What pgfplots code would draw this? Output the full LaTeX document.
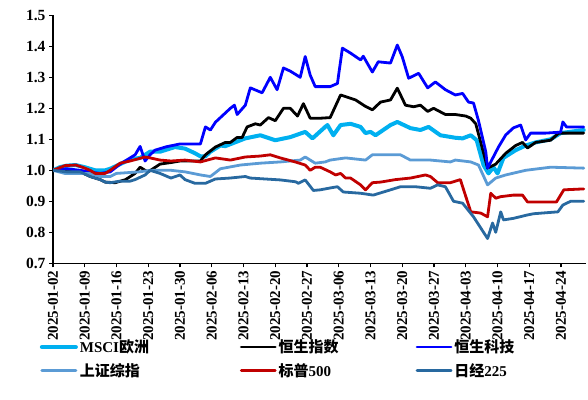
\documentclass[border=0pt]{standalone}
\usepackage{pgfplots}
\pgfplotsset{compat=1.18}
\usepackage{fontspec}
\setmainfont{Liberation Serif}
\newfontfamily\cjk{Noto Sans CJK SC}
\definecolor{cMSCI}{RGB}{0,176,240}
\definecolor{cHSI}{RGB}{0,0,0}
\definecolor{cHST}{RGB}{0,0,255}
\definecolor{cSH}{RGB}{91,155,213}
\definecolor{cSP}{RGB}{192,0,0}
\definecolor{cNK}{RGB}{40,105,160}
\begin{document}
\begin{tikzpicture}
\path[use as bounding box] (0,0) rectangle (588pt,-399pt);
\begin{axis}[
  at={(53pt,-263.3pt)}, anchor=south west,
  scale only axis, width=533pt, height=248pt,
  xmin=0, xmax=117.5, ymin=0.7, ymax=1.5,
  axis x line*=bottom, axis y line*=left,
  axis line style={black, line width=1.3pt},
  tick style={black, line width=1.3pt},
  tick align=outside, major tick length=4pt,
  xtick={0,7,14,21,28,35,42,49,56,63,70,77,84,91,98,105,112},
  xticklabels={2025-01-02,2025-01-09,2025-01-16,2025-01-23,2025-01-30,2025-02-06,2025-02-13,2025-02-20,2025-02-27,2025-03-06,2025-03-13,2025-03-20,2025-03-27,2025-04-03,2025-04-10,2025-04-17,2025-04-24},
  x tick label style={rotate=90, anchor=east, font=\fontsize{15}{15}\selectfont\bfseries},
  ytick={0.7,0.8,0.9,1.0,1.1,1.2,1.3,1.4,1.5},
  y tick label style={font=\fontsize{15.5}{15.5}\selectfont\bfseries},
  /pgf/number format/assume math mode=true,
  yticklabel={\pgfmathprintnumber[fixed,fixed zerofill,precision=1]{\tick}},
  legend columns=3,
  legend style={at={(axis description cs:-0.025,-0.30)}, anchor=north west, draw=none, fill=none,
    font=\fontsize{15}{15}\selectfont\bfseries, row sep=5pt, inner sep=0pt,
    /tikz/every even column/.append style={column sep=0pt}},
  legend cell align=left,
  legend image code/.code={\draw[#1, line cap=round] (0pt,0pt) -- (34pt,0pt);},
  every axis plot/.append style={line join=round, line cap=round},
]
% MSCI Europe
\addplot[cMSCI, line width=4pt] coordinates {
(0,1.0) (1.5,1.01) (3,1.015) (5,1.017) (7,1.01) (9.3,1.0) (11.5,1.0) (12.6,1.005) (14.8,1.02) (17,1.035) (19.2,1.04) (21.4,1.06) (23.6,1.06) (26.9,1.075) (29.1,1.07) (31.3,1.055) (32.5,1.045) (33.6,1.045) (34.7,1.06) (36.9,1.08) (38,1.078) (42.4,1.103) (45.7,1.113) (49,1.097) (52.3,1.107) (55.6,1.124) (57.2,1.103) (60,1.14) (60.5,1.146) (61.8,1.113) (63.4,1.146) (65.6,1.15) (67.8,1.14) (68.9,1.12) (70,1.124) (71.1,1.113) (74.4,1.146) (75.9,1.156) (78.8,1.136) (81,1.13) (82.8,1.14) (85.4,1.113) (88.7,1.105) (90.3,1.103) (92.1,1.113) (93.4,1.097) (94.9,1.017) (96,0.99) (97.1,1.01) (98,0.99) (99.3,1.04) (102,1.065) (104.2,1.08) (106.4,1.09) (109.7,1.10) (111.9,1.12) (117,1.13)
};
\addlegendentry{\makebox[158pt][l]{MSCI{\cjk\bfseries 欧洲}}}
% HSI
\addplot[cHSI, line width=2.8pt] coordinates {
(0,1.0) (3,1.0) (6,0.995) (8.2,0.98) (10.4,0.97) (11.5,0.962) (13.7,0.96) (16,0.97) (18.1,0.99) (19.2,1.01) (20.3,1.0) (21,0.995) (23.6,1.02) (26,1.025) (28,1.03) (32.5,1.03) (33.6,1.05) (35.8,1.075) (38,1.09) (39.1,1.09) (40.6,1.106) (41.7,1.106) (42.8,1.14) (44.6,1.15) (45.7,1.146) (47.5,1.17) (49,1.16) (50.8,1.20) (52.3,1.20) (53.9,1.175) (55.2,1.215) (56.7,1.168) (58.9,1.168) (61.1,1.17) (63.4,1.243) (66.7,1.227) (68.9,1.206) (70.4,1.195) (72.2,1.22) (74.4,1.227) (75.9,1.265) (77.7,1.21) (79.5,1.205) (81,1.21) (82.6,1.19) (83.9,1.20) (86.5,1.18) (88.7,1.18) (91,1.175) (92.1,1.168) (93.2,1.15) (95.8,1.007) (97.6,1.02) (99.8,1.055) (102,1.08) (103.5,1.09) (104.6,1.072) (106.4,1.09) (109.7,1.097) (111.5,1.12) (117,1.12)
};
\addlegendentry{\makebox[135pt][l]{\cjk\bfseries 恒生指数}}
% HSTECH
\addplot[cHST, line width=2.8pt] coordinates {
(0,1.0) (3,1.005) (6,1.0) (8,0.995) (10.4,0.99) (12.6,0.995) (14.8,1.02) (17,1.04) (18.1,1.05) (19.2,1.077) (20.3,1.03) (21.4,1.05) (22.5,1.065) (25,1.076) (28,1.085) (32.5,1.085) (33.6,1.14) (34.7,1.13) (35.8,1.155) (38,1.185) (39.1,1.20) (40,1.21) (40.6,1.18) (42.4,1.21) (43.5,1.266) (46.1,1.25) (47.9,1.30) (49.4,1.26) (50.8,1.33) (52.3,1.32) (54.5,1.30) (55.6,1.367) (56.7,1.307) (57.8,1.27) (61.1,1.27) (62.7,1.28) (63.8,1.394) (65.6,1.378) (67.8,1.356) (68.4,1.368) (70.4,1.317) (71.7,1.35) (74.4,1.346) (75.9,1.404) (77,1.366) (78.4,1.297) (80.6,1.313) (82.6,1.266) (84.3,1.285) (86.5,1.26) (88.7,1.243) (90.3,1.248) (91.6,1.22) (92.7,1.217) (93.8,1.16) (95.4,1.06) (95.8,1.007) (98.2,1.075) (99.8,1.114) (101.5,1.137) (103.1,1.146) (104.2,1.098) (105.3,1.12) (108.6,1.12) (111.9,1.123) (112.4,1.156) (113.2,1.14) (117,1.14)
};
\addlegendentry{\cjk\bfseries 恒生科技}
% Shanghai
\addplot[cSH, line width=2.8pt] coordinates {
(0,1.0) (2.6,0.99) (5,0.99) (8,0.99) (10.4,0.98) (12.6,0.98) (14,0.99) (19,0.995) (21.4,1.0) (26,1.0) (29.1,0.995) (32.5,0.985) (34.7,0.98) (36.9,1.005) (41.3,1.017) (45.7,1.023) (50.1,1.027) (54.5,1.033) (55.6,1.043) (57.8,1.023) (60,1.027) (61.1,1.033) (64.5,1.04) (68.9,1.033) (70.4,1.05) (76.6,1.05) (78.8,1.033) (83.2,1.033) (87.6,1.027) (88.7,1.033) (92.1,1.027) (93.8,1.017) (95.8,0.953) (97.6,0.975) (99.8,0.985) (104.2,1.0) (109.7,1.01) (117,1.007)
};
\addlegendentry{\cjk\bfseries 上证综指}
% S&P 500
\addplot[cSP, line width=2.8pt] coordinates {
(0,1.0) (2.6,1.015) (5,1.017) (6.5,1.01) (8.2,1.0) (9.3,0.99) (11.5,0.99) (12.6,1.0) (14.8,1.023) (17,1.03) (20.3,1.043) (21.4,1.04) (23.6,1.033) (26,1.03) (29.1,1.033) (32.5,1.027) (35.8,1.04) (39.1,1.033) (42.4,1.043) (45.7,1.046) (47.9,1.05) (50.1,1.04) (53.4,1.027) (55.6,1.017) (56.7,1.0) (57.8,1.01) (58.9,1.01) (61.1,0.995) (62.3,0.985) (63.4,0.99) (64.5,0.975) (65.6,0.975) (67.8,0.953) (68.9,0.937) (70.4,0.96) (72.2,0.962) (75.5,0.97) (78.8,0.975) (82.1,0.985) (83.2,0.98) (84.8,0.96) (87.6,0.96) (89.8,0.97) (90.9,0.92) (92.1,0.866) (94.3,0.862) (95.8,0.85) (96.5,0.926) (97.6,0.91) (98.7,0.915) (101.5,0.92) (103.5,0.92) (104.6,0.898) (111,0.898) (112.6,0.937) (117,0.94)
};
\addlegendentry{{\cjk\bfseries 标普}500}
% Nikkei 225
\addplot[cNK, line width=2.8pt] coordinates {
(0,1.0) (3,0.995) (6,0.995) (8.2,0.98) (10.4,0.97) (11.5,0.962) (12.6,0.96) (14.8,0.965) (17,0.965) (18.1,0.97) (20.3,0.985) (21.4,1.0) (23.6,0.99) (26,0.975) (28,0.985) (29.1,0.97) (31.3,0.958) (33.6,0.958) (35.8,0.972) (39,0.975) (42.4,0.98) (43.5,0.975) (46.8,0.972) (50.1,0.969) (53.5,0.963) (54.1,0.958) (55.6,0.969) (57.4,0.935) (58.9,0.937) (61.1,0.943) (62.7,0.947) (64,0.93) (67.8,0.926) (70.6,0.92) (74.4,0.937) (76.6,0.947) (79.9,0.947) (83.2,0.942) (84.8,0.953) (86.5,0.947) (88.3,0.9) (90.3,0.894) (92.7,0.85) (95.8,0.78) (96.9,0.83) (97.6,0.8) (98.7,0.866) (99.3,0.84) (101.5,0.845) (104.6,0.856) (106,0.86) (111.3,0.866) (112.4,0.888) (114.1,0.9) (117,0.9)
};
\addlegendentry{{\cjk\bfseries 日经}225}
\end{axis}
\end{tikzpicture}
\end{document}
